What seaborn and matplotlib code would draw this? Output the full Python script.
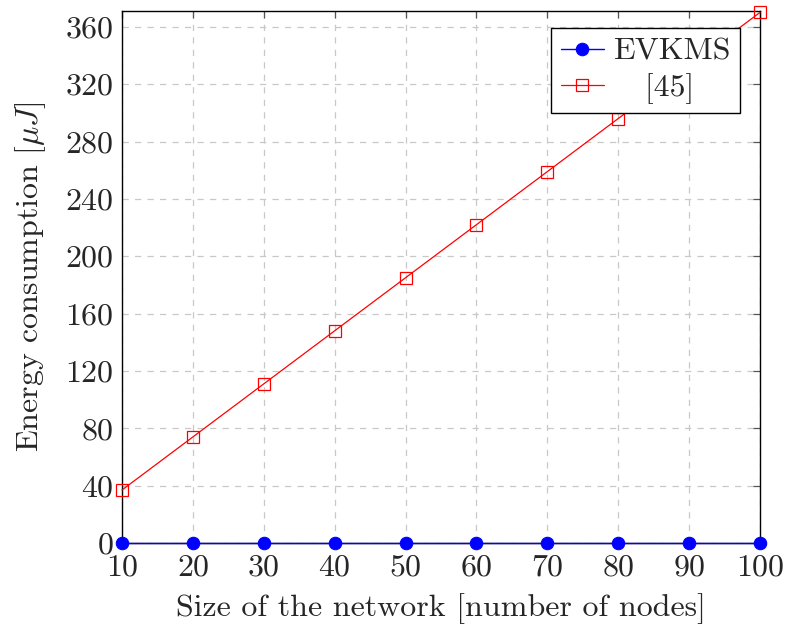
import matplotlib
matplotlib.use("Agg")
import matplotlib.pyplot as plt
import seaborn as sns
import pandas as pd

nodes = [10, 20, 30, 40, 50, 60, 70, 80, 90, 100]
evkms = [0, 0, 0, 0, 0, 0, 0, 0, 0, 0]
ref45 = [37, 74, 111, 148, 185, 222, 259, 296, 333, 370]
x_ticks = [10, 20, 30, 40, 50, 60, 70, 80, 90, 100]
y_ticks = [0, 40, 80, 120, 160, 200, 240, 280, 320, 360]

sns.set_theme(style="white")
plt.rcParams["font.family"] = "serif"
plt.rcParams["font.serif"] = ["cmr10", "DejaVu Serif"]
plt.rcParams["mathtext.fontset"] = "cm"
plt.rcParams["axes.formatter.use_mathtext"] = True

df = pd.DataFrame({
    "nodes": nodes * 2,
    "energy": evkms + ref45,
    "scheme": ["EVKMS"] * len(nodes) + ["[45]"] * len(nodes),
})

fig = plt.figure(figsize=(7.85, 6.3), dpi=100)
ax = fig.add_axes([0.1554, 0.138, 0.8127, 0.8445])

sub_e = df[df.scheme == "EVKMS"]
sub_r = df[df.scheme == "[45]"]
sns.lineplot(data=sub_e, x="nodes", y="energy", ax=ax, color="blue",
             linewidth=1.0, marker="o", markersize=9, markeredgecolor="blue",
             markerfacecolor="blue", clip_on=False, zorder=4, label="EVKMS")
sns.lineplot(data=sub_r, x="nodes", y="energy", ax=ax, color="red",
             linewidth=0.9, marker="s", markersize=8.5, markeredgecolor="red",
             markerfacecolor="none", markeredgewidth=0.9, clip_on=False,
             zorder=3, label="   [45]")

ax.set_xlim(10, 100)
ax.set_ylim(0, 371)
ax.set_xticks(x_ticks)
ax.set_yticks(y_ticks)
ax.grid(True, linestyle=(0, (5, 5)), color="#c8c8c8", linewidth=0.9)
ax.set_axisbelow(True)
for s in ax.spines.values():
    s.set_color("black")
    s.set_linewidth(1.0)
ax.tick_params(direction="in", length=5, width=0.9, color="#555555",
               top=True, right=True, labelsize=23, pad=6)
ax.tick_params(axis="x", pad=8)
ax.set_xlabel("Size of the network [number of nodes]", fontsize=23, labelpad=8)
ax.set_ylabel(r"Energy consumption [$\mu J$]", fontsize=23, labelpad=12)

leg = ax.legend(loc="upper right", bbox_to_anchor=(0.969, 0.968), fontsize=23,
                frameon=True, fancybox=False, edgecolor="black",
                framealpha=1, borderpad=0.3, handlelength=1.35,
                handletextpad=0.3, labelspacing=0.22, borderaxespad=0)
leg.get_frame().set_linewidth(1.0)

fig.savefig("out.png", dpi=100)
